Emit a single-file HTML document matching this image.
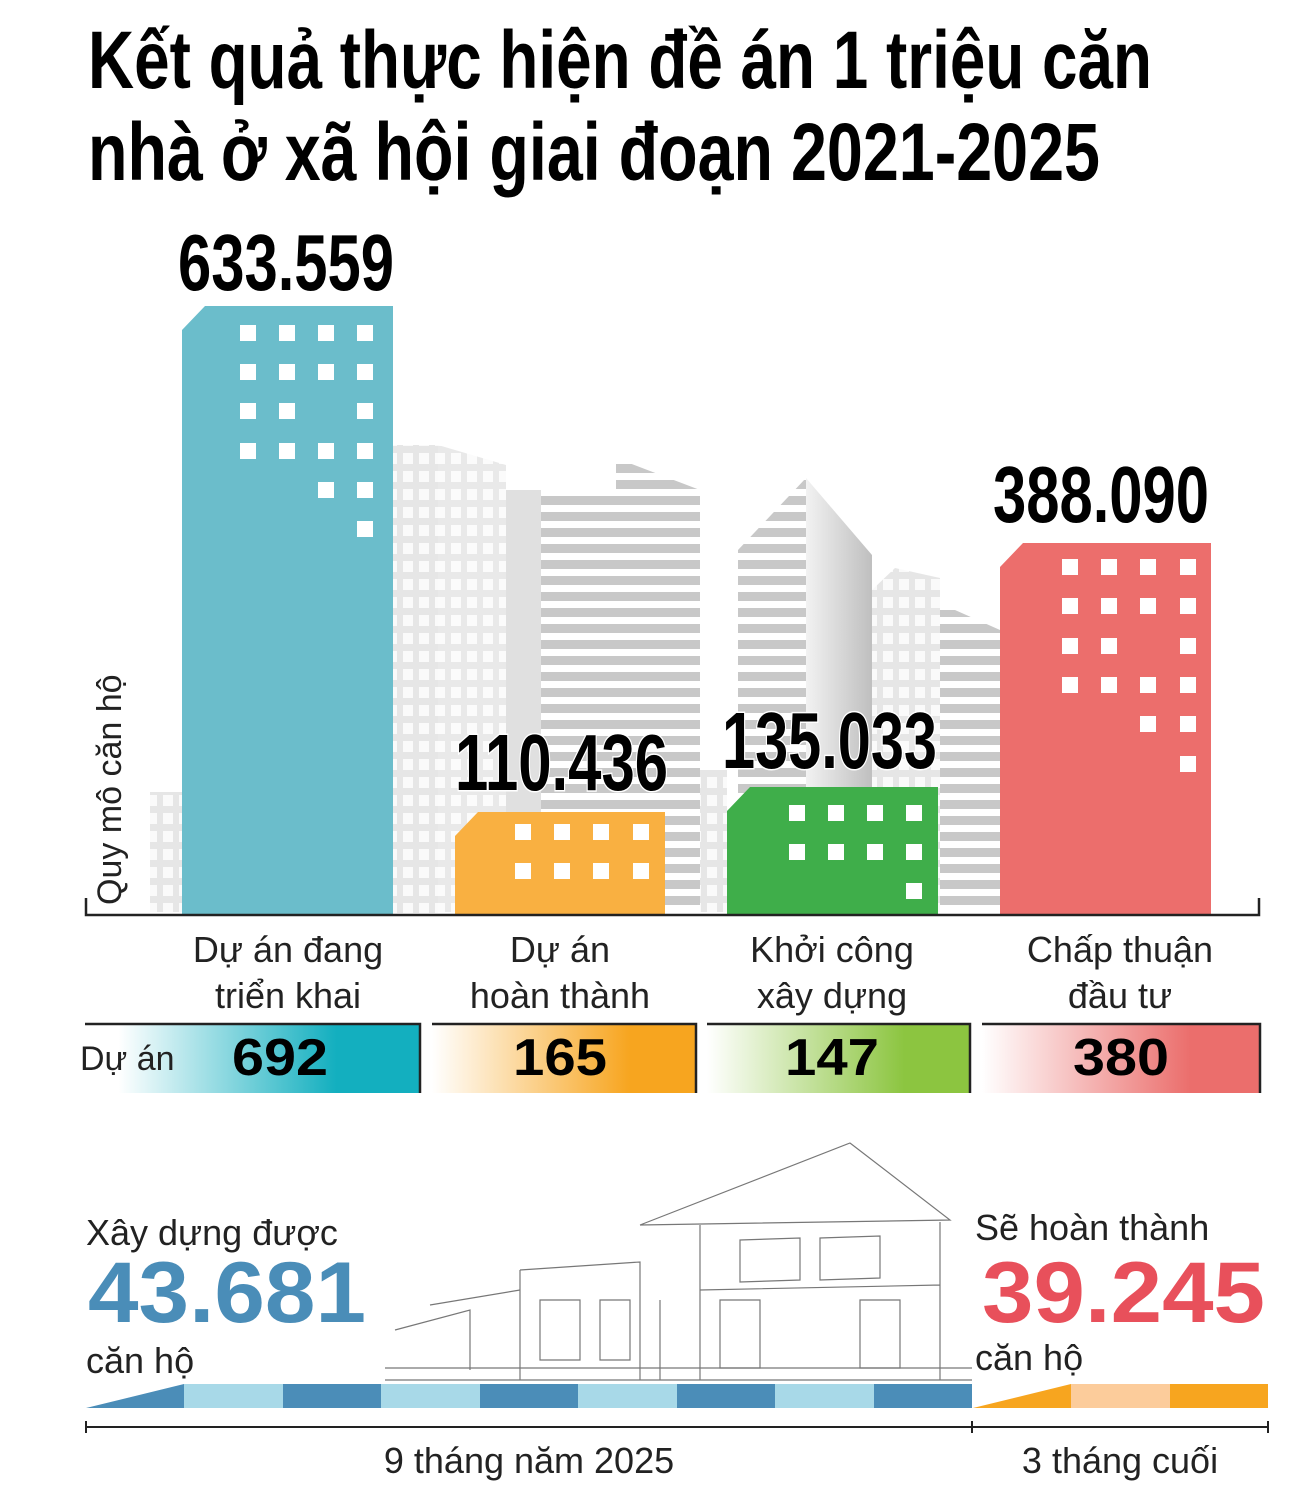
<!DOCTYPE html>
<html><head><meta charset="utf-8"><style>
html,body{margin:0;padding:0;background:#fff;}
svg{display:block}
text{font-family:"Liberation Sans",sans-serif;}
</style></head><body>
<svg width="1306" height="1493" viewBox="0 0 1306 1493" xmlns="http://www.w3.org/2000/svg">
<defs>
<linearGradient id="gb" x1="0" x2="1"><stop offset="0.1" stop-color="#fff"/><stop offset="0.75" stop-color="#13afbf"/></linearGradient>
<linearGradient id="go" x1="0" x2="1"><stop offset="0" stop-color="#fff"/><stop offset="0.75" stop-color="#f7a51f"/></linearGradient>
<linearGradient id="gg" x1="0" x2="1"><stop offset="0" stop-color="#fff"/><stop offset="0.75" stop-color="#8cc540"/></linearGradient>
<linearGradient id="gr" x1="0" x2="1"><stop offset="0" stop-color="#fff"/><stop offset="0.75" stop-color="#eb6e6c"/></linearGradient>
<linearGradient id="gray" x1="0" x2="1"><stop offset="0" stop-color="#f2f2f2"/><stop offset="1" stop-color="#bfbfbf"/></linearGradient>
<pattern id="stripe" width="10" height="16" patternUnits="userSpaceOnUse"><rect width="10" height="16" fill="#fff"/><rect width="10" height="9" fill="#c8c8c8"/></pattern>
<pattern id="win" width="16" height="18" patternUnits="userSpaceOnUse"><rect width="16" height="18" fill="#e6e6e6"/><rect x="3" y="3" width="10" height="11" fill="#fafafa"/></pattern>
</defs>
<text x="88" y="88" font-size="82" font-weight="bold" textLength="1064" lengthAdjust="spacingAndGlyphs">Kết quả thực hiện đề án 1 triệu căn</text>
<text x="88" y="180" font-size="82" font-weight="bold" textLength="1012" lengthAdjust="spacingAndGlyphs">nhà ở xã hội giai đoạn 2021-2025</text>

<!-- gray background buildings -->
<rect x="150" y="792" width="32" height="120" fill="url(#win)"/>
<rect x="393" y="445" width="45" height="468" fill="url(#win)"/>
<path d="M438 445 L506 465 L506 912 L438 912Z" fill="url(#win)" opacity="0.9"/>
<rect x="506" y="490" width="35" height="422" fill="#e0e0e0"/>
<rect x="541" y="490" width="75" height="422" fill="url(#stripe)"/>
<path d="M616 458 L700 490 L700 912 L616 912Z" fill="url(#stripe)"/>
<rect x="700" y="770" width="27" height="142" fill="url(#win)"/>
<path d="M738 550 L806 478 L806 912 L738 912Z" fill="url(#stripe)"/>
<path d="M806 478 L872 555 L872 912 L806 912Z" fill="url(#gray)"/>
<path d="M872 590 L895 568 L940 578 L940 912 L872 912Z" fill="url(#win)"/>
<path d="M940 610 L955 610 L1000 630 L1000 912 L940 912Z" fill="url(#stripe)"/>

<!-- bars -->
<path d="M182 330 L205 306 L393 306 L393 915 L182 915Z" fill="#6bbdcb"/>
<path d="M455 836 L478 812 L665 812 L665 915 L455 915Z" fill="#f9b041"/>
<path d="M727 811 L750 787 L938 787 L938 915 L727 915Z" fill="#3fae4a"/>
<path d="M1000 567 L1023 543 L1211 543 L1211 915 L1000 915Z" fill="#ec6e6c"/>
<g fill="#fff">
<rect x="240" y="325" width="16" height="16"/><rect x="279" y="325" width="16" height="16"/><rect x="318" y="325" width="16" height="16"/><rect x="357" y="325" width="16" height="16"/>
<rect x="240" y="364" width="16" height="16"/><rect x="279" y="364" width="16" height="16"/><rect x="318" y="364" width="16" height="16"/><rect x="357" y="364" width="16" height="16"/>
<rect x="240" y="403" width="16" height="16"/><rect x="279" y="403" width="16" height="16"/><rect x="357" y="403" width="16" height="16"/>
<rect x="240" y="443" width="16" height="16"/><rect x="279" y="443" width="16" height="16"/><rect x="318" y="443" width="16" height="16"/><rect x="357" y="443" width="16" height="16"/>
<rect x="318" y="482" width="16" height="16"/><rect x="357" y="482" width="16" height="16"/>
<rect x="357" y="521" width="16" height="16"/>
<rect x="515" y="824" width="16" height="16"/><rect x="554" y="824" width="16" height="16"/><rect x="593" y="824" width="16" height="16"/><rect x="633" y="824" width="16" height="16"/>
<rect x="515" y="863" width="16" height="16"/><rect x="554" y="863" width="16" height="16"/><rect x="593" y="863" width="16" height="16"/><rect x="633" y="863" width="16" height="16"/>
<rect x="789" y="805" width="16" height="16"/><rect x="828" y="805" width="16" height="16"/><rect x="867" y="805" width="16" height="16"/><rect x="906" y="805" width="16" height="16"/>
<rect x="789" y="844" width="16" height="16"/><rect x="828" y="844" width="16" height="16"/><rect x="867" y="844" width="16" height="16"/><rect x="906" y="844" width="16" height="16"/>
<rect x="906" y="883" width="16" height="16"/>
<rect x="1062" y="559" width="16" height="16"/><rect x="1101" y="559" width="16" height="16"/><rect x="1140" y="559" width="16" height="16"/><rect x="1180" y="559" width="16" height="16"/>
<rect x="1062" y="598" width="16" height="16"/><rect x="1101" y="598" width="16" height="16"/><rect x="1140" y="598" width="16" height="16"/><rect x="1180" y="598" width="16" height="16"/>
<rect x="1062" y="638" width="16" height="16"/><rect x="1101" y="638" width="16" height="16"/><rect x="1180" y="638" width="16" height="16"/>
<rect x="1062" y="677" width="16" height="16"/><rect x="1101" y="677" width="16" height="16"/><rect x="1140" y="677" width="16" height="16"/><rect x="1180" y="677" width="16" height="16"/>
<rect x="1140" y="716" width="16" height="16"/><rect x="1180" y="716" width="16" height="16"/>
<rect x="1180" y="756" width="16" height="16"/>
</g>
<!-- axis -->
<path d="M86 898 L86 915 L1259 915 L1259 898" fill="none" stroke="#222" stroke-width="2.5"/>
<text transform="translate(121,905) rotate(-90)" font-size="34" fill="#222">Quy mô căn hộ</text>

<g font-weight="bold" font-size="80" fill="#000" stroke="#fff" stroke-width="3" paint-order="stroke">
<text x="178" y="290" textLength="216" lengthAdjust="spacingAndGlyphs">633.559</text>
<text x="455" y="790" textLength="213" lengthAdjust="spacingAndGlyphs">110.436</text>
<text x="722" y="768" textLength="215" lengthAdjust="spacingAndGlyphs">135.033</text>
<text x="993" y="522" textLength="216" lengthAdjust="spacingAndGlyphs">388.090</text>
</g>

<g font-size="36" fill="#222" text-anchor="middle">
<text x="288" y="962">Dự án đang</text><text x="288" y="1008">triển khai</text>
<text x="560" y="962">Dự án</text><text x="560" y="1008">hoàn thành</text>
<text x="832" y="962">Khởi công</text><text x="832" y="1008">xây dựng</text>
<text x="1120" y="962">Chấp thuận</text><text x="1120" y="1008">đầu tư</text>
</g>

<rect x="85" y="1023" width="335" height="70" fill="url(#gb)"/>
<rect x="432" y="1023" width="264" height="70" fill="url(#go)"/>
<rect x="707" y="1023" width="263" height="70" fill="url(#gg)"/>
<rect x="982" y="1023" width="278" height="70" fill="url(#gr)"/>
<g stroke="#222" stroke-width="2.5" fill="none">
<path d="M85 1024 L420 1024 L420 1093"/><path d="M432 1024 L696 1024 L696 1093"/>
<path d="M707 1024 L970 1024 L970 1093"/><path d="M982 1024 L1260 1024 L1260 1093"/>
</g>
<text x="80" y="1070" font-size="34" fill="#222">Dự án</text>
<g font-size="52" font-weight="bold" fill="#000" text-anchor="middle">
<text x="280" y="1075" textLength="96" lengthAdjust="spacingAndGlyphs">692</text>
<text x="560" y="1075" textLength="94" lengthAdjust="spacingAndGlyphs">165</text>
<text x="832" y="1075" textLength="94" lengthAdjust="spacingAndGlyphs">147</text>
<text x="1121" y="1075" textLength="96" lengthAdjust="spacingAndGlyphs">380</text>
</g>

<!-- house sketch approximation -->
<g fill="none" stroke="#777" stroke-width="1.2">
<path d="M640 1225 L850 1143 L950 1220 L640 1225"/>
<path d="M700 1225 L700 1380 M940 1222 L940 1380 M700 1290 L940 1285 M660 1300 L660 1380"/>
<path d="M520 1270 L640 1262 L640 1380 M520 1270 L520 1380"/>
<path d="M430 1305 L520 1290 M395 1330 L470 1310 L470 1370"/>
<path d="M385 1368 L972 1368 M385 1380 L972 1380"/>
<path d="M720 1300 L760 1300 L760 1368 L720 1368Z M860 1300 L900 1300 L900 1368 L860 1368Z"/>
<path d="M540 1300 L580 1300 L580 1360 L540 1360Z M600 1300 L630 1300 L630 1360 L600 1360Z"/>
<path d="M740 1240 L800 1238 L800 1280 L740 1282Z M820 1238 L880 1236 L880 1278 L820 1280Z"/>
</g>

<text x="86" y="1245" font-size="36" fill="#222">Xây dựng được</text>
<text x="88" y="1322" font-size="86" font-weight="bold" fill="#4a8db8" textLength="278" lengthAdjust="spacingAndGlyphs">43.681</text>
<text x="86" y="1373" font-size="36" fill="#222">căn hộ</text>
<text x="975" y="1240" font-size="36" fill="#222">Sẽ hoàn thành</text>
<text x="982" y="1322" font-size="86" font-weight="bold" fill="#e8505b" textLength="283" lengthAdjust="spacingAndGlyphs">39.245</text>
<text x="975" y="1370" font-size="36" fill="#222">căn hộ</text>

<path d="M86 1408 L184 1384 L184 1408Z" fill="#4b8db8"/>
<rect x="184" y="1384" width="99" height="24" fill="#a8d9e8"/>
<rect x="283" y="1384" width="98" height="24" fill="#4b8db8"/>
<rect x="381" y="1384" width="99" height="24" fill="#a8d9e8"/>
<rect x="480" y="1384" width="98" height="24" fill="#4b8db8"/>
<rect x="578" y="1384" width="99" height="24" fill="#a8d9e8"/>
<rect x="677" y="1384" width="98" height="24" fill="#4b8db8"/>
<rect x="775" y="1384" width="99" height="24" fill="#a8d9e8"/>
<rect x="874" y="1384" width="98" height="24" fill="#4b8db8"/>
<path d="M973 1408 L1071 1384 L1071 1408Z" fill="#f7a51f"/>
<rect x="1071" y="1384" width="99" height="24" fill="#fccc9b"/>
<rect x="1170" y="1384" width="98" height="24" fill="#f7a51f"/>

<path d="M86 1427 L1268 1427 M86 1421 L86 1433 M972 1421 L972 1433 M1268 1421 L1268 1433" stroke="#222" stroke-width="2"/>
<text x="529" y="1473" font-size="36" fill="#222" text-anchor="middle">9 tháng năm 2025</text>
<text x="1120" y="1473" font-size="36" fill="#222" text-anchor="middle">3 tháng cuối</text>
</svg>
</body></html>
